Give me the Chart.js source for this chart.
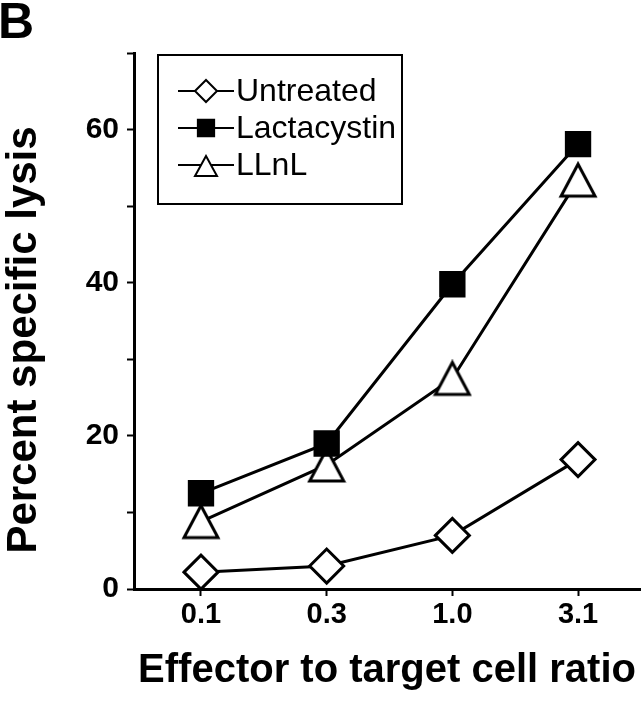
<!DOCTYPE html>
<html><head><meta charset="utf-8">
<script src="https://cdn.jsdelivr.net/npm/chart.js@4/dist/chart.umd.min.js"></script>
<style>html,body{margin:0;padding:0;background:#fff;overflow:hidden;}#wrap{width:642px;height:719px;position:relative;}canvas{display:block;}</style>
</head><body><div id="wrap"><canvas id="c" width="642" height="719"></canvas></div>
<script>
// ---- data ----
const categories = ['0.1', '0.3', '1.0', '3.1'];
const untreated = [2.2, 3.0, 7.0, 16.9];
const lactacystin = [12.5, 19.0, 39.8, 58.1];
const llnl = [8.8, 16.2, 27.5, 53.4];
const seriesNames = ['Untreated', 'Lactacystin', 'LLnL'];
const yTicks = [0, 10, 20, 30, 40, 50, 60, 70];
const yTickLabels = ['0', '', '20', '', '40', '', '60', ''];
const xTitle = 'Effector to target cell ratio';
const yTitle = 'Percent specific lysis';
const panelLabel = 'B';

const FAMILY = '"Liberation Sans", Arial, Helvetica, sans-serif';
Chart.defaults.font.family = FAMILY;
Chart.defaults.color = '#000';

const toPts = arr => arr.map((v, i) => ({x: i, y: v}));

function makeTriangle(w, h, lw) {
  const c = document.createElement('canvas');
  c.width = Math.ceil(w + lw * 2); c.height = Math.ceil(h + lw * 2);
  const g = c.getContext('2d');
  const ox = (c.width - w) / 2, oy = (c.height - h) / 2;
  g.beginPath();
  g.moveTo(ox + w / 2, oy);
  g.lineTo(ox + w, oy + h);
  g.lineTo(ox, oy + h);
  g.closePath();
  g.fillStyle = '#fff'; g.fill();
  g.lineJoin = 'miter';
  g.lineWidth = lw; g.strokeStyle = '#000'; g.stroke();
  return c;
}
const triBig = makeTriangle(34, 32, 3);
const triSmall = makeTriangle(22, 20, 2);

const styles = [
  {pointStyle: 'rectRot', radius: 17, legendRadius: 11, fill: '#fff'},
  {pointStyle: 'rect', radius: 16.5, legendRadius: 11.5, fill: '#000'},
  {pointStyle: triBig, radius: 18, legendRadius: 0, fill: '#fff'}
];
const values = [untreated, lactacystin, llnl];

const datasets = seriesNames.map((name, k) => ({
  label: name,
  data: toPts(values[k]),
  borderColor: '#000',
  borderWidth: 3,
  backgroundColor: styles[k].fill,
  pointStyle: styles[k].pointStyle,
  pointRadius: styles[k].radius,
  pointHoverRadius: styles[k].radius,
  pointBackgroundColor: styles[k].fill,
  pointBorderColor: '#000',
  pointBorderWidth: 3,
  tension: 0,
  fill: false,
  clip: false
}));

function drawShape(ctx, style, r, x, y) {
  if (typeof style === 'object') {
    ctx.drawImage(triSmall, x - triSmall.width / 2, y - triSmall.height / 2);
    return;
  }
  ctx.beginPath();
  if (style === 'rectRot') {
    ctx.moveTo(x - r, y); ctx.lineTo(x, y - r); ctx.lineTo(x + r, y); ctx.lineTo(x, y + r); ctx.closePath();
  } else {
    const s = r * Math.SQRT1_2; ctx.rect(x - s, y - s, 2 * s, 2 * s);
  }
  ctx.fill(); ctx.stroke();
}

const boxLegend = {
  id: 'boxLegend',
  afterDraw(chart) {
    const ctx = chart.ctx;
    const a = chart.chartArea;
    const x0 = a.left + 24, y0 = a.top + 2, w = 244, h = 149;
    ctx.save();
    ctx.fillStyle = '#fff';
    ctx.fillRect(x0, y0, w, h);
    ctx.strokeStyle = '#000';
    ctx.lineWidth = 2;
    ctx.strokeRect(x0, y0, w, h);
    const rowY = [y0 + 36, y0 + 73, y0 + 110];
    seriesNames.forEach((name, k) => {
      const y = rowY[k];
      ctx.strokeStyle = '#000';
      ctx.lineWidth = 2;
      ctx.beginPath(); ctx.moveTo(x0 + 20, y); ctx.lineTo(x0 + 76, y); ctx.stroke();
      ctx.fillStyle = styles[k].fill;
      drawShape(ctx, styles[k].pointStyle, styles[k].legendRadius, x0 + 48, y + (k === 2 ? 1 : 0));
      ctx.fillStyle = '#000';
      ctx.font = '32px ' + FAMILY;
      ctx.textBaseline = 'middle';
      ctx.textAlign = 'left';
      ctx.fillText(name, x0 + 78, y + 1);
    });
    // panel letter
    ctx.font = 'bold 50px ' + FAMILY;
    ctx.textBaseline = 'alphabetic';
    ctx.fillStyle = '#000';
    ctx.fillText(panelLabel, -2, 38);
    // y axis title
    ctx.translate(24, 340);
    ctx.rotate(-Math.PI / 2);
    ctx.font = 'bold 42px ' + FAMILY;
    ctx.textAlign = 'center';
    ctx.textBaseline = 'middle';
    ctx.fillText(yTitle, 0, 0);
    ctx.restore();
  }
};

new Chart(document.getElementById('c'), {
  type: 'line',
  data: {datasets},
  plugins: [boxLegend],
  options: {
    responsive: false,
    devicePixelRatio: 1,
    animation: false,
    layout: {autoPadding: false, padding: {top: 53, right: 2, left: 0, bottom: 0}},
    plugins: {legend: {display: false}, tooltip: {enabled: false}, title: {display: false}},
    scales: {
      x: {
        type: 'linear',
        position: 'bottom',
        min: -0.533,
        max: 3.493,
        afterBuildTicks: s => { s.ticks = categories.map((c, i) => ({value: i})); },
        afterFit: s => { s.height = 130; s.paddingLeft = 0; s.paddingRight = 0; },
        ticks: {
          callback: v => categories[Math.round(v)] ?? '',
          font: {size: 29, weight: 'bold'},
          color: '#000',
          padding: 2,
          maxRotation: 0,
          autoSkip: false
        },
        grid: {display: true, drawOnChartArea: false, drawTicks: true, tickLength: 7, tickWidth: 2, color: '#000'},
        border: {display: true, width: 3, color: '#000'},
        title: {display: true, text: xTitle, color: '#000', font: {size: 40, weight: 'bold'}, padding: {top: 0, bottom: 24}}
      },
      y: {
        min: 0,
        max: 70,
        afterBuildTicks: s => { s.ticks = yTicks.map(v => ({value: v})); },
        afterFit: s => { s.width = 134; s.paddingTop = 0; s.paddingBottom = 0; },
        ticks: {
          callback: v => yTickLabels[yTicks.indexOf(v)] ?? '',
          font: {size: 30, weight: 'bold'},
          color: '#000',
          padding: 8,
          autoSkip: false
        },
        grid: {display: true, drawOnChartArea: false, drawTicks: true, tickLength: 7, tickWidth: 2, color: '#000'},
        border: {display: true, width: 3, color: '#000'},
        title: {display: false, text: yTitle}
      }
    }
  }
});
</script></body></html>
